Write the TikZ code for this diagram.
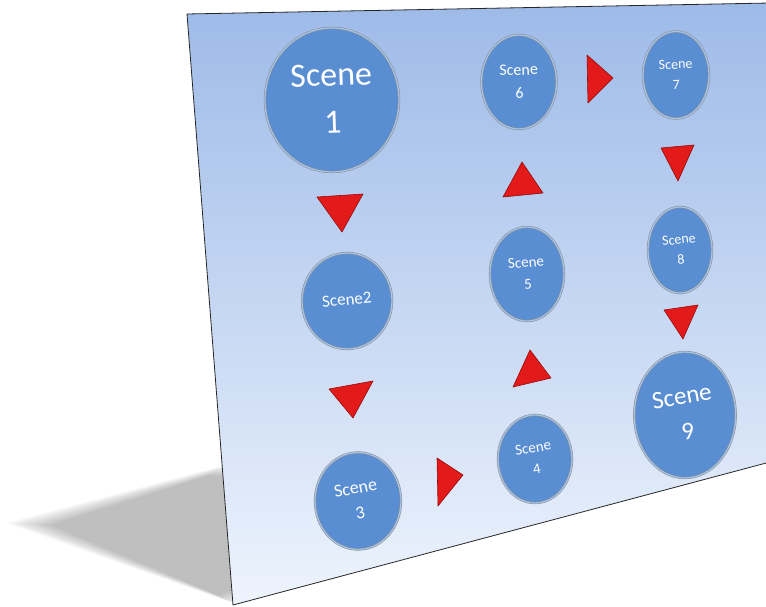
\documentclass[tikz,border=0pt]{standalone}
\usepackage{fontspec}
\setmainfont{Carlito}
\usetikzlibrary{shapes.geometric}

\definecolor{slidetop}{HTML}{9DBAE8}
\definecolor{slidemid}{HTML}{C4D6F2}
\definecolor{slidebot}{HTML}{EEF4FD}
\definecolor{discfill}{HTML}{5A8ED2}
\definecolor{discedge}{HTML}{3E6EAE}
\definecolor{arrowred}{HTML}{E21A1A}
\definecolor{arrowedge}{HTML}{980A0A}

% label of a scene disc: size, line skip, tilt, text
\newcommand{\scenetext}[4]{\fontsize{#1}{#2}\selectfont
  \rotatebox[origin=c]{#3}{\begin{tabular}{@{}c@{}}#4\end{tabular}}}

\tikzset{
  disc/.style={ellipse, fill=discfill, draw=black!45, line width=0.5pt,
    double=white!45!discfill, double distance=1.3pt,
    inner sep=0pt, text=white},
  redtri/.style={fill=arrowred, draw=arrowedge, line width=0.6pt, line join=round},
  slideedge/.style={draw=black!85, line width=0.8pt, line join=round}
}

\begin{document}
\begin{tikzpicture}[x=1pt,y=-1pt]
\useasboundingbox (0,0) rectangle (766,607);

% soft shadow cast to the left of the slide
\foreach \k in {0,...,11}{
  \pgfmathsetmacro{\sx}{1-0.025*\k}
  \pgfmathsetmacro{\sy}{1-0.012*\k}
  \begin{scope}[shift={(170,540)}, xscale=\sx, yscale=\sy, shift={(-170,-540)}]
    \fill[black, opacity=0.022] (222,466) -- (6,523) -- (236,604)
      -- (300,585) -- (300,466) -- cycle;
  \end{scope}
}

% the slide itself
\coordinate (tl) at (187,14);
\coordinate (tr) at (770,3);
\coordinate (br) at (770,462);
\coordinate (bl) at (233,605);
\begin{scope}
  \clip (tl) -- (tr) -- (br) -- (bl) -- cycle;
  \shade[top color=slidetop, middle color=slidemid, bottom color=slidebot]
    (180,0) rectangle (770,607);
\end{scope}
\draw[slideedge] (tr) -- (tl) -- (bl) -- (br);

% scene discs
\node[disc, minimum width=134pt, minimum height=144pt] (s1) at (332,100)
  {\scenetext{34}{47}{2}{Scene\\1}};
\node[disc, minimum width=90pt, minimum height=96pt] (s2) at (347,301)
  {\scenetext{17}{20}{5}{Scene2}};
\node[disc, minimum width=86pt, minimum height=97pt] (s3) at (358,501)
  {\scenetext{18}{25}{11}{Scene\\3}};
\node[disc, minimum width=74pt, minimum height=88pt] (s4) at (535,459)
  {\scenetext{15}{21}{10}{Scene\\4}};
\node[disc, minimum width=74pt, minimum height=94pt] (s5) at (527,274)
  {\scenetext{15}{22}{5}{Scene\\5}};
\node[disc, minimum width=75pt, minimum height=94pt] (s6) at (519,82)
  {\scenetext{16}{23}{2}{Scene\\6}};
\node[disc, minimum width=66pt, minimum height=87pt] (s7) at (676,75)
  {\scenetext{14}{20}{2}{Scene\\7}};
\node[disc, minimum width=64pt, minimum height=86pt] (s8) at (680,250)
  {\scenetext{14}{20}{6}{Scene\\8}};
\node[disc, minimum width=94pt, minimum height=126pt] (s9) at (685,415)
  {\scenetext{25}{36}{10}{Scene\\9}};

% red pointers between the scenes
\filldraw[redtri] (317,197) -- (363,194) -- (342,232) -- cycle;
\filldraw[redtri] (329,389) -- (373,381) -- (353,418) -- cycle;
\filldraw[redtri] (437,458) -- (463,475) -- (438,506) -- cycle;
\filldraw[redtri] (530,350) -- (551,378) -- (513,387) -- cycle;
\filldraw[redtri] (522,162) -- (543,193) -- (503,197) -- cycle;
\filldraw[redtri] (587,55) -- (613,78) -- (588,103) -- cycle;
\filldraw[redtri] (661,148) -- (694,145) -- (678,181) -- cycle;
\filldraw[redtri] (664,310) -- (698,305) -- (683,339) -- cycle;
\end{tikzpicture}
\end{document}
